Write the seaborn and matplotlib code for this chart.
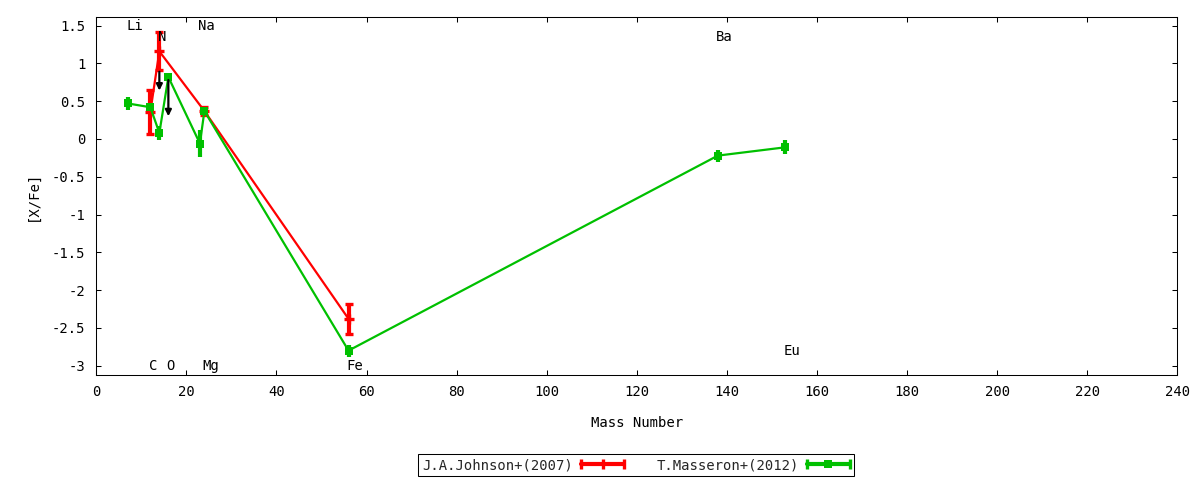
import numpy as np
import pandas as pd
import matplotlib
matplotlib.use('Agg')
import matplotlib.pyplot as plt
import seaborn as sns
from matplotlib.lines import Line2D
from matplotlib.legend_handler import HandlerLine2D

# ---- data ----
johnson_mass = [12, 14, 24, 56]
johnson_xfe = [0.36, 1.16, 0.37, -2.38]
johnson_err = [0.29, 0.25, 0.05, 0.20]

masseron_mass = [7, 12, 14, 16, 23, 24, 56, 138, 153]
masseron_xfe = [0.47, 0.42, 0.08, 0.82, -0.06, 0.37, -2.80, -0.22, -0.11]
masseron_err = [0.08, 0.05, 0.09, 0.05, 0.18, 0.05, 0.08, 0.08, 0.09]

limit_mass = [14, 16]
limit_from = [0.89, 0.78]
limit_to = [0.64, 0.30]

element_names = ['Li', 'N', 'Na', 'C', 'O', 'Mg', 'Fe', 'Ba', 'Eu']
element_mass = [7, 14, 23, 12, 16, 24, 56, 138, 153]
element_label_y = [1.5, 1.35, 1.5, -3, -3, -3, -3, 1.35, -2.8]

x_ticks = list(range(0, 241, 20))
y_ticks = [1.5, 1, 0.5, 0, -0.5, -1, -1.5, -2, -2.5, -3]
y_tick_labels = ['1.5', '1', '0.5', '0', '-0.5', '-1', '-1.5', '-2', '-2.5', '-3']

series_labels = ['J.A.Johnson+(2007)', 'T.Masseron+(2012)']

RED = '#FF0000'
GREEN = '#00C000'
FS = 10

sns.set_theme(style='ticks')
plt.rcParams['font.family'] = ['DejaVu Sans Mono', 'DejaVu Sans']
plt.rcParams['axes.unicode_minus'] = False

fig = plt.figure(figsize=(12, 4.8), dpi=100)
ax = fig.add_axes([0.08025, 0.21875, 0.90083, 0.74521])

jdf = pd.DataFrame({'mass': johnson_mass, 'xfe': johnson_xfe})
mdf = pd.DataFrame({'mass': masseron_mass, 'xfe': masseron_xfe})

# Johnson (red)
sns.lineplot(data=jdf, x='mass', y='xfe', color=RED, lw=1.6, ax=ax,
             sort=False, estimator=None, legend=False, zorder=2)
ax.errorbar(johnson_mass, johnson_xfe, yerr=johnson_err, fmt='+', color=RED,
            ms=6.5, mew=2.4, elinewidth=3.0, capsize=3.2, capthick=2.4, zorder=3)

# Masseron (green)
sns.lineplot(data=mdf, x='mass', y='xfe', color=GREEN, lw=1.6, ax=ax,
             sort=False, estimator=None, legend=False, zorder=4)
ax.errorbar(masseron_mass, masseron_xfe, yerr=masseron_err, fmt='s', color=GREEN,
            ms=6.3, mew=0, elinewidth=3.0, capsize=3.4, capthick=2.4, zorder=5)

# upper-limit arrows
for xm, y0, y1 in zip(limit_mass, limit_from, limit_to):
    ax.annotate('', xy=(xm, y1), xytext=(xm, y0),
                arrowprops=dict(arrowstyle='-|>', color='black', lw=1.6,
                                mutation_scale=9, shrinkA=0, shrinkB=0),
                zorder=6)

# element labels
for name, m, yl in zip(element_names, element_mass, element_label_y):
    ax.text(m - 0.4, yl, name, ha='left', va='center', fontsize=FS, color='black', zorder=7)

ax.set_xlim(0, 240)
ax.set_ylim(-3.123, 1.61)
ax.set_xticks(x_ticks)
ax.set_xticklabels([str(t) for t in x_ticks])
ax.set_yticks(y_ticks)
ax.set_yticklabels(y_tick_labels)
ax.tick_params(axis='both', direction='in', top=True, right=True, length=3.3,
               width=0.75, labelsize=FS, colors='black')
ax.tick_params(axis='x', pad=7.5)
ax.tick_params(axis='y', pad=8)
for sp in ax.spines.values():
    sp.set_color('black')
    sp.set_linewidth(0.75)
ax.grid(False)

ax.set_xlabel('Mass Number', fontsize=FS, color='black')
ax.xaxis.set_label_coords(0.5, -0.115)
ax.set_ylabel('[X/Fe]', fontsize=FS, color='black')
ax.yaxis.set_label_coords(-0.052, 0.5)

# legend
r_base = Line2D([], [], color=RED, lw=3.0, marker='|', ms=6.5, mew=2.4)
r_center = Line2D([], [], color=RED, lw=0, marker='|', ms=6.5, mew=2.4)
g_base = Line2D([], [], color=GREEN, lw=3.0, marker='|', ms=6.5, mew=2.4)
g_center = Line2D([], [], color=GREEN, lw=0, marker='s', ms=6.3, mew=0)
hmap = {r_base: HandlerLine2D(numpoints=2, marker_pad=0),
        g_base: HandlerLine2D(numpoints=2, marker_pad=0),
        r_center: HandlerLine2D(numpoints=1),
        g_center: HandlerLine2D(numpoints=1)}
leg = fig.legend(handles=[(r_base, r_center), (g_base, g_center)], labels=series_labels,
                 loc='center', bbox_to_anchor=(0.53, 0.031), ncol=2, markerfirst=False,
                 frameon=True, fancybox=False, edgecolor='black', framealpha=1,
                 handlelength=3.1, handletextpad=0.6, columnspacing=2.3,
                 borderpad=0.3, fontsize=FS, handler_map=hmap)
leg.get_frame().set_linewidth(0.75)

fig.savefig('out.png', dpi=100)
